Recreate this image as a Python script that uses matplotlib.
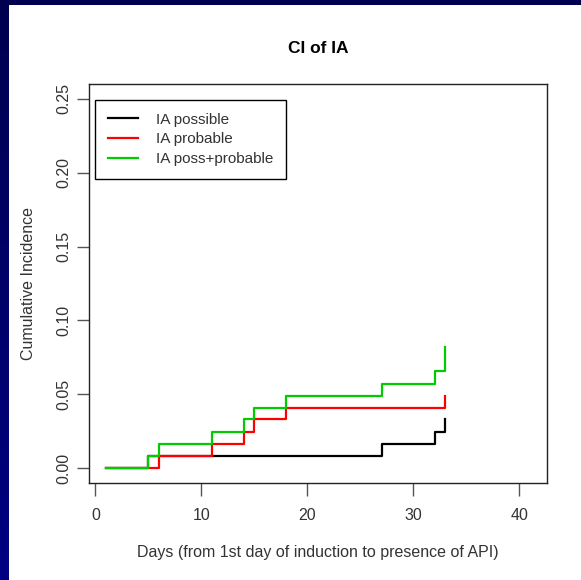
import numpy as np
import matplotlib
matplotlib.use("Agg")
import matplotlib.pyplot as plt
from matplotlib.colors import LinearSegmentedColormap

plt.rcParams['font.family'] = ['Liberation Sans', 'DejaVu Sans']

# step curves: event days and cumulative incidence after each step
days_possible = [1, 5, 27, 32, 33]
ci_possible = [0.0, 0.0081, 0.0164, 0.0248, 0.0330]

days_probable = [1, 6, 11, 14, 15, 18, 33]
ci_probable = [0.0, 0.0081, 0.0164, 0.0248, 0.0330, 0.0405, 0.0488]

days_both = [1, 5, 6, 11, 14, 15, 18, 27, 32, 33]
ci_both = [0.0, 0.0081, 0.0164, 0.0248, 0.0330, 0.0405, 0.0490, 0.0572, 0.0655, 0.0820]

labels = ["IA possible", "IA probable", "IA poss+probable"]
colors = ["black", "#ff0000", "#00cc00"]

x_ticks = [0, 10, 20, 30, 40]
y_ticks = [0.00, 0.05, 0.10, 0.15, 0.20, 0.25]

W, H = 581, 580
fig = plt.figure(figsize=(W / 100, H / 100), dpi=100, facecolor="white")

# dark blue slide frame on the top and left
cmap = LinearSegmentedColormap.from_list("frame", ["#000050", "#000082"])
side = fig.add_axes([0, 0, 9 / W, 1])
side.imshow(np.linspace(0, 1, 100).reshape(-1, 1), aspect="auto", cmap=cmap,
            extent=[0, 1, 1, 0])
side.axis("off")
top = fig.add_axes([0, 1 - 5 / H, 1, 5 / H])
top.set_facecolor("#000050")
top.set_xticks([])
top.set_yticks([])
for s in top.spines.values():
    s.set_visible(False)

left, right, ytop, ybot = 89, 547, 84, 483
ax = fig.add_axes([left / W, 1 - ybot / H, (right - left) / W, (ybot - ytop) / H])

series = [(days_possible, ci_possible), (days_probable, ci_probable), (days_both, ci_both)]
for (d, c), lab, col in zip(series, labels, colors):
    ax.step(d, c, where="post", color=col, lw=1.6, label=lab)

ax.set_xlim(-0.6, 42.6)
ax.set_ylim(-0.01, 0.26)
ax.set_xticks(x_ticks)
ax.set_xticklabels([str(t) for t in x_ticks])
ax.set_yticks(y_ticks)
ax.set_yticklabels(["%.2f" % t for t in y_ticks], rotation=90, va="center")
ax.tick_params(length=9, width=1, color="#555555", labelcolor="#333333",
               labelsize=11.5)
ax.tick_params(axis="x", pad=9)
ax.tick_params(axis="y", pad=4)
for s in ax.spines.values():
    s.set_color("#222222")
    s.set_linewidth(1)

ax.set_title("CI of IA", fontsize=12.5, fontweight="bold", pad=22)
ax.set_xlabel("Days (from 1st day of induction to presence of API)",
              fontsize=11.5, color="#333333", labelpad=16)
ax.set_ylabel("Cumulative Incidence", fontsize=11.5, color="#333333", labelpad=14)

leg = ax.legend(loc="upper left", bbox_to_anchor=(6 / (right - left), 1 - 16 / (ybot - ytop)),
                fancybox=False, framealpha=1, edgecolor="black", fontsize=11,
                handlelength=2.0, handletextpad=1.2, borderpad=0.82,
                labelspacing=0.38, borderaxespad=0)
leg.get_frame().set_linewidth(1)
for t in leg.get_texts():
    t.set_color("#333333")

fig.savefig("out.png", dpi=100, facecolor="white")
